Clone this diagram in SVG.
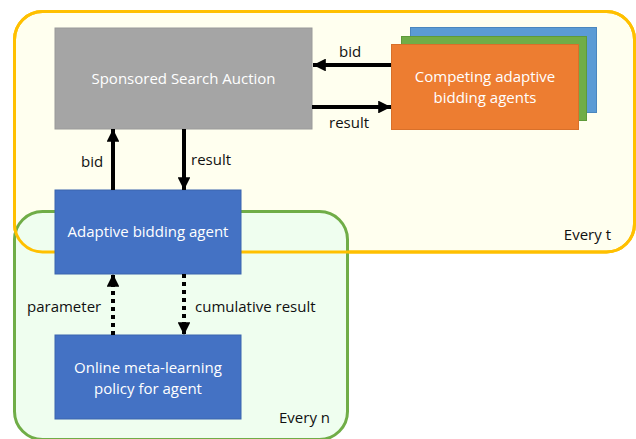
<svg xmlns="http://www.w3.org/2000/svg" width="636" height="439" viewBox="0 0 636 439">
<defs>
<marker id="ah" viewBox="0 0 10 10" refX="10" refY="5" markerWidth="3.2" markerHeight="3.2" markerUnits="strokeWidth" orient="auto">
<path d="M0,0 L10,5 L0,10 Z" fill="#000"/>
</marker>
<style>
text{font-family:"Open Sans","Liberation Sans",sans-serif;font-size:15px}
.w{fill:#fff;text-anchor:middle}
.k{fill:#111}
.c{stroke:#000;stroke-width:4;fill:none;marker-end:url(#ah)}
.d{stroke-dasharray:4 4}
</style>
</defs>
<g id="every-t">
<rect x="14.5" y="11.5" width="620" height="240.5" rx="28" fill="#FFFFEF" stroke="#FFC000" stroke-width="3"/>
</g>
<g id="every-n">
<rect x="14.5" y="211.5" width="333" height="228" rx="28" fill="#EFFEEF" stroke="#70AD47" stroke-width="3"/>
<text class="k" x="330" y="423" text-anchor="end">Every n</text>
</g>
<rect x="14.5" y="11.5" width="620" height="240.5" rx="28" fill="none" stroke="#FFC000" stroke-width="3"/>
<text class="k" x="611" y="240" text-anchor="end">Every t</text>
<g id="auction">
<rect x="55" y="28" width="257" height="101" fill="#A5A5A5" stroke="#9A9A9A" stroke-width="1"/>
<text class="w" x="183.5" y="84">Sponsored Search Auction</text>
</g>
<g id="competing">
<rect x="410.5" y="27.5" width="186" height="85" fill="#5B9BD5" stroke="#4A86BE" stroke-width="1"/>
<rect x="401.5" y="36.5" width="185" height="84" fill="#70AD47" stroke="#5E9A3A" stroke-width="1"/>
<rect x="391.5" y="44.5" width="187" height="85" fill="#ED7D31" stroke="#D8702A" stroke-width="1"/>
<text class="w" x="485" y="82">Competing adaptive</text>
<text class="w" x="485" y="103">bidding agents</text>
</g>
<g id="adaptive">
<rect x="55" y="190" width="186" height="84" fill="#4472C4" stroke="#3B64AE" stroke-width="1"/>
<text class="w" x="148" y="237">Adaptive bidding agent</text>
</g>
<g id="meta">
<rect x="55" y="335" width="186" height="84" fill="#4472C4" stroke="#3B64AE" stroke-width="1"/>
<text class="w" x="148" y="373">Online meta-learning</text>
<text class="w" x="148" y="394">policy for agent</text>
</g>
<g id="connectors">
<line class="c" x1="391" y1="65" x2="313" y2="65"/>
<line class="c" x1="312" y1="107" x2="391" y2="107"/>
<line class="c" x1="113" y1="190" x2="113" y2="129"/>
<line class="c" x1="184" y1="129" x2="184" y2="190"/>
<line class="c d" x1="113" y1="335" x2="113" y2="274"/>
<line class="c d" x1="184" y1="274" x2="184" y2="335"/>
<text class="k" x="339" y="57">bid</text>
<text class="k" x="329" y="128">result</text>
<text class="k" x="81" y="167">bid</text>
<text class="k" x="191" y="165">result</text>
<text class="k" x="27" y="312">parameter</text>
<text class="k" x="195" y="312">cumulative result</text>
</g>
</svg>
